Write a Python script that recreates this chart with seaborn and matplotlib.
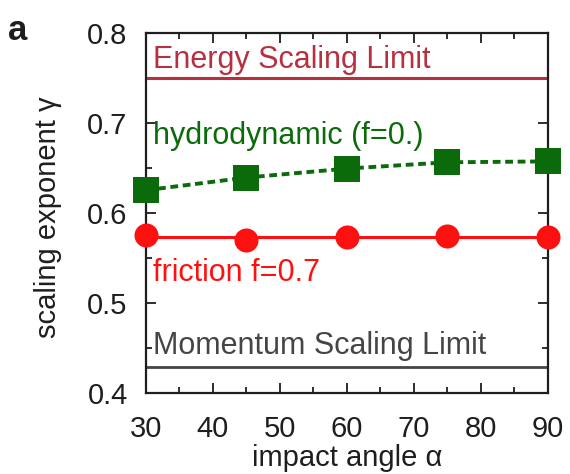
import matplotlib
matplotlib.use("Agg")
import matplotlib.pyplot as plt
import seaborn as sns
import pandas as pd
from matplotlib.ticker import MultipleLocator

sns.set_theme(style="ticks")
plt.rcParams['font.family'] = ['Liberation Sans', 'DejaVu Sans']

angles = [30, 45, 60, 75, 90]
hydro_gamma = [0.625, 0.639, 0.649, 0.656, 0.657]
friction_gamma = [0.575, 0.570, 0.573, 0.574, 0.573]
friction_fit = 0.573
energy_limit = 0.75
momentum_limit = 0.429

df = pd.DataFrame({"angle": angles, "hydro": hydro_gamma, "friction": friction_gamma})

fig = plt.figure(figsize=(5.70, 4.74), dpi=100)
ax = fig.add_axes([145.7/570, 1-392.7/474, (547.7-145.7)/570, (392.7-32.7)/474])

green = "#0b6b0b"
red = "#ff1010"
ered = "#b83040"
gray = "#454545"
dark = "#1e1e1e"

ax.axhline(energy_limit, color=ered, lw=2.2, zorder=1)
ax.axhline(momentum_limit, color=gray, lw=2.0, zorder=1)
ax.axhline(friction_fit, color=red, lw=2.2, zorder=2)

sns.lineplot(data=df, x="angle", y="hydro", ax=ax, color=green, lw=2.8,
             linestyle=(0, (2, 1.2)), marker="s", markersize=19,
             markeredgewidth=0, zorder=3, clip_on=False)
sns.scatterplot(data=df, x="angle", y="friction", ax=ax, color=red, s=300,
                marker="o", linewidth=0, zorder=4, clip_on=False)

ax.set_xlim(30, 90)
ax.set_ylim(0.4, 0.8)
ax.xaxis.set_major_locator(MultipleLocator(10))
ax.xaxis.set_minor_locator(MultipleLocator(5))
ax.yaxis.set_minor_locator(MultipleLocator(0.05))
ax.set_yticks([0.4, 0.5, 0.6, 0.7, 0.8])
ax.set_yticklabels(["0.4", "0.5", "0.6", "0.7", "0.8"])
ax.tick_params(which="both", direction="in", top=True, right=True,
               labelsize=21, colors=dark, width=1.3)
ax.tick_params(which="major", length=7)
ax.tick_params(which="minor", length=4)
ax.tick_params(axis="y", which="major", pad=13)
ax.tick_params(axis="x", which="major", pad=16)
for s in ax.spines.values():
    s.set_linewidth(1.6)
    s.set_color(dark)

ax.set_xlabel("impact angle α", fontsize=21, color=dark)
ax.set_ylabel("scaling exponent γ", fontsize=21, color=dark)
ax.xaxis.set_label_coords(0.5, -0.142)
ax.yaxis.set_label_coords(-0.208, 0.488)

ax.text(31.1, 0.761, "Energy Scaling Limit", color=ered, fontsize=22, va="baseline")
ax.text(31.1, 0.443, "Momentum Scaling Limit", color=gray, fontsize=22, va="baseline")
ax.text(31.1, 0.676, "hydrodynamic (f=0.)", color=green, fontsize=22, va="baseline")
ax.text(31.1, 0.524, "friction f=0.7", color=red, fontsize=22, va="baseline")

fig.text(8/570, 1-30/474, "a", fontsize=25, fontweight="bold", va="center", ha="left", color=dark)

fig.savefig("out.png", dpi=100)
